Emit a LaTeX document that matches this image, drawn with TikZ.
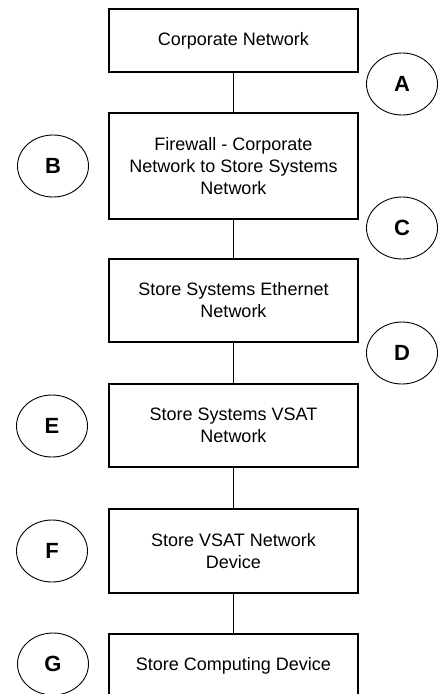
\documentclass[tikz,border=0pt]{standalone}
\usepackage{fontspec}
\setmainfont{Liberation Sans}
\usetikzlibrary{shapes.geometric}
\begin{document}
\begin{tikzpicture}[x=1pt,y=-1pt,
  netbox/.style={draw=black, line width=1.4pt, fill=white, minimum width=249pt,
    inner sep=0pt, align=center, font=\fontsize{18}{22}\selectfont},
  tag/.style={draw=black, ellipse, line width=0.9pt, minimum width=71pt,
    minimum height=62pt, inner sep=0pt, font=\fontsize{22}{24}\selectfont\bfseries},
  link/.style={draw=black, line width=1.4pt}]
\useasboundingbox (0,0) rectangle (437,694);
\fill[white] (0,0) rectangle (437,694);

% stack of network layers
\node[netbox, minimum height=63pt]  (corp) at (233.5,40.5)  {Corporate Network};
\node[netbox, minimum height=106pt] (fw)   at (233.5,166)   {Firewall - Corporate\\Network to Store Systems\\Network};
\node[netbox, minimum height=83pt]  (eth)  at (233.5,300.5) {Store Systems Ethernet\\Network};
\node[netbox, minimum height=83pt]  (vsat) at (233.5,425.5) {Store Systems VSAT\\Network};
\node[netbox, minimum height=84pt]  (dev)  at (233.5,551)   {Store VSAT Network\\Device};
\node[netbox, minimum height=63pt]  (comp) at (233.5,665.5) {Store Computing Device};

% links between layers
\draw[link] (corp.south) -- (fw.north);
\draw[link] (fw.south)   -- (eth.north);
\draw[link] (eth.south)  -- (vsat.north);
\draw[link] (vsat.south) -- (dev.north);
\draw[link] (dev.south)  -- (comp.north);

% lettered markers
\node[tag] (tA) at (402,84)  {A};
\node[tag] (tB) at (53,166)  {B};
\node[tag] (tC) at (402,228) {C};
\node[tag] (tD) at (402,353) {D};
\node[tag] (tE) at (52,426)  {E};
\node[tag] (tF) at (52,551)  {F};
\node[tag] (tG) at (53,664)  {G};
\end{tikzpicture}
\end{document}
